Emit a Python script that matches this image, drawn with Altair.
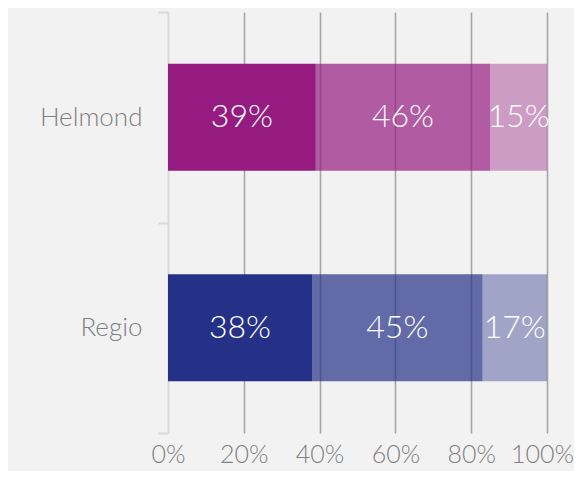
import altair as alt
import pandas as pd

categories = ["Helmond", "Regio"]
helmond_values = [39, 46, 15]
regio_values = [38, 45, 17]
base_colours = {"Helmond": "#951b80", "Regio": "#253187"}
segment_opacity = [1.0, 0.7, 0.4]
x_ticks = [0, 20, 40, 60, 80, 100]

rows = []
for cat, vals in zip(categories, [helmond_values, regio_values]):
    start = 0
    for i, v in enumerate(vals):
        rows.append({"cat": cat, "seg": i, "value": v, "start": start,
                     "end": start + v, "colour": base_colours[cat],
                     "op": segment_opacity[i]})
        start += v
df = pd.DataFrame(rows)

font = "Lato"

base = alt.Chart(df)

bars = base.mark_bar(size=107).encode(
    y=alt.Y("cat:N", sort=categories, title=None,
            scale=alt.Scale(paddingInner=0, paddingOuter=0),
            axis=alt.Axis(tickBand="extent", domainColor="#d9d9d9", domainWidth=2,
                          tickColor="#d9d9d9", tickWidth=2, tickSize=10,
                          labelFont=font, labelFontSize=26, labelColor="#7f7f7f",
                          labelFontWeight=300, labelPadding=16, grid=False)),
    x=alt.X("start:Q", title=None,
            scale=alt.Scale(domain=[0, 100], nice=False),
            axis=alt.Axis(values=x_ticks, labelExpr="datum.value + '%'",
                          domain=False, ticks=False, grid=True,
                          gridColor=alt.condition("datum.value == 0", alt.value("transparent"), alt.value("#a6a6a6")),
                          gridWidth=1.6,
                          labelOffset=alt.condition("datum.value == 100", alt.value(-5), alt.value(0)),
                          labelFont=font, labelFontSize=25, labelColor="#7f7f7f",
                          labelFontWeight=300, labelPadding=9, labelFlush=False)),
    x2="end:Q",
    color=alt.Color("colour:N", scale=None),
    opacity=alt.Opacity("op:Q", scale=None),
)

labels = base.transform_calculate(
    mid="(datum.start + datum.end) / 2",
    lab="datum.value + '%'"
).mark_text(color="white", font=font, fontSize=32, fontWeight=300).encode(
    y=alt.Y("cat:N", sort=categories),
    x=alt.X("mid:Q"),
    text="lab:N",
)

chart = alt.layer(bars, labels).properties(
    width=379, height=421,
    background="#f2f2f2",
    padding={"left": 160, "top": 4, "right": 27, "bottom": 38},
    autosize=alt.AutoSizeParams(type="none"),
).configure_view(stroke=None)

chart.save("out.html", embed_options={"renderer": "svg", "actions": False})
